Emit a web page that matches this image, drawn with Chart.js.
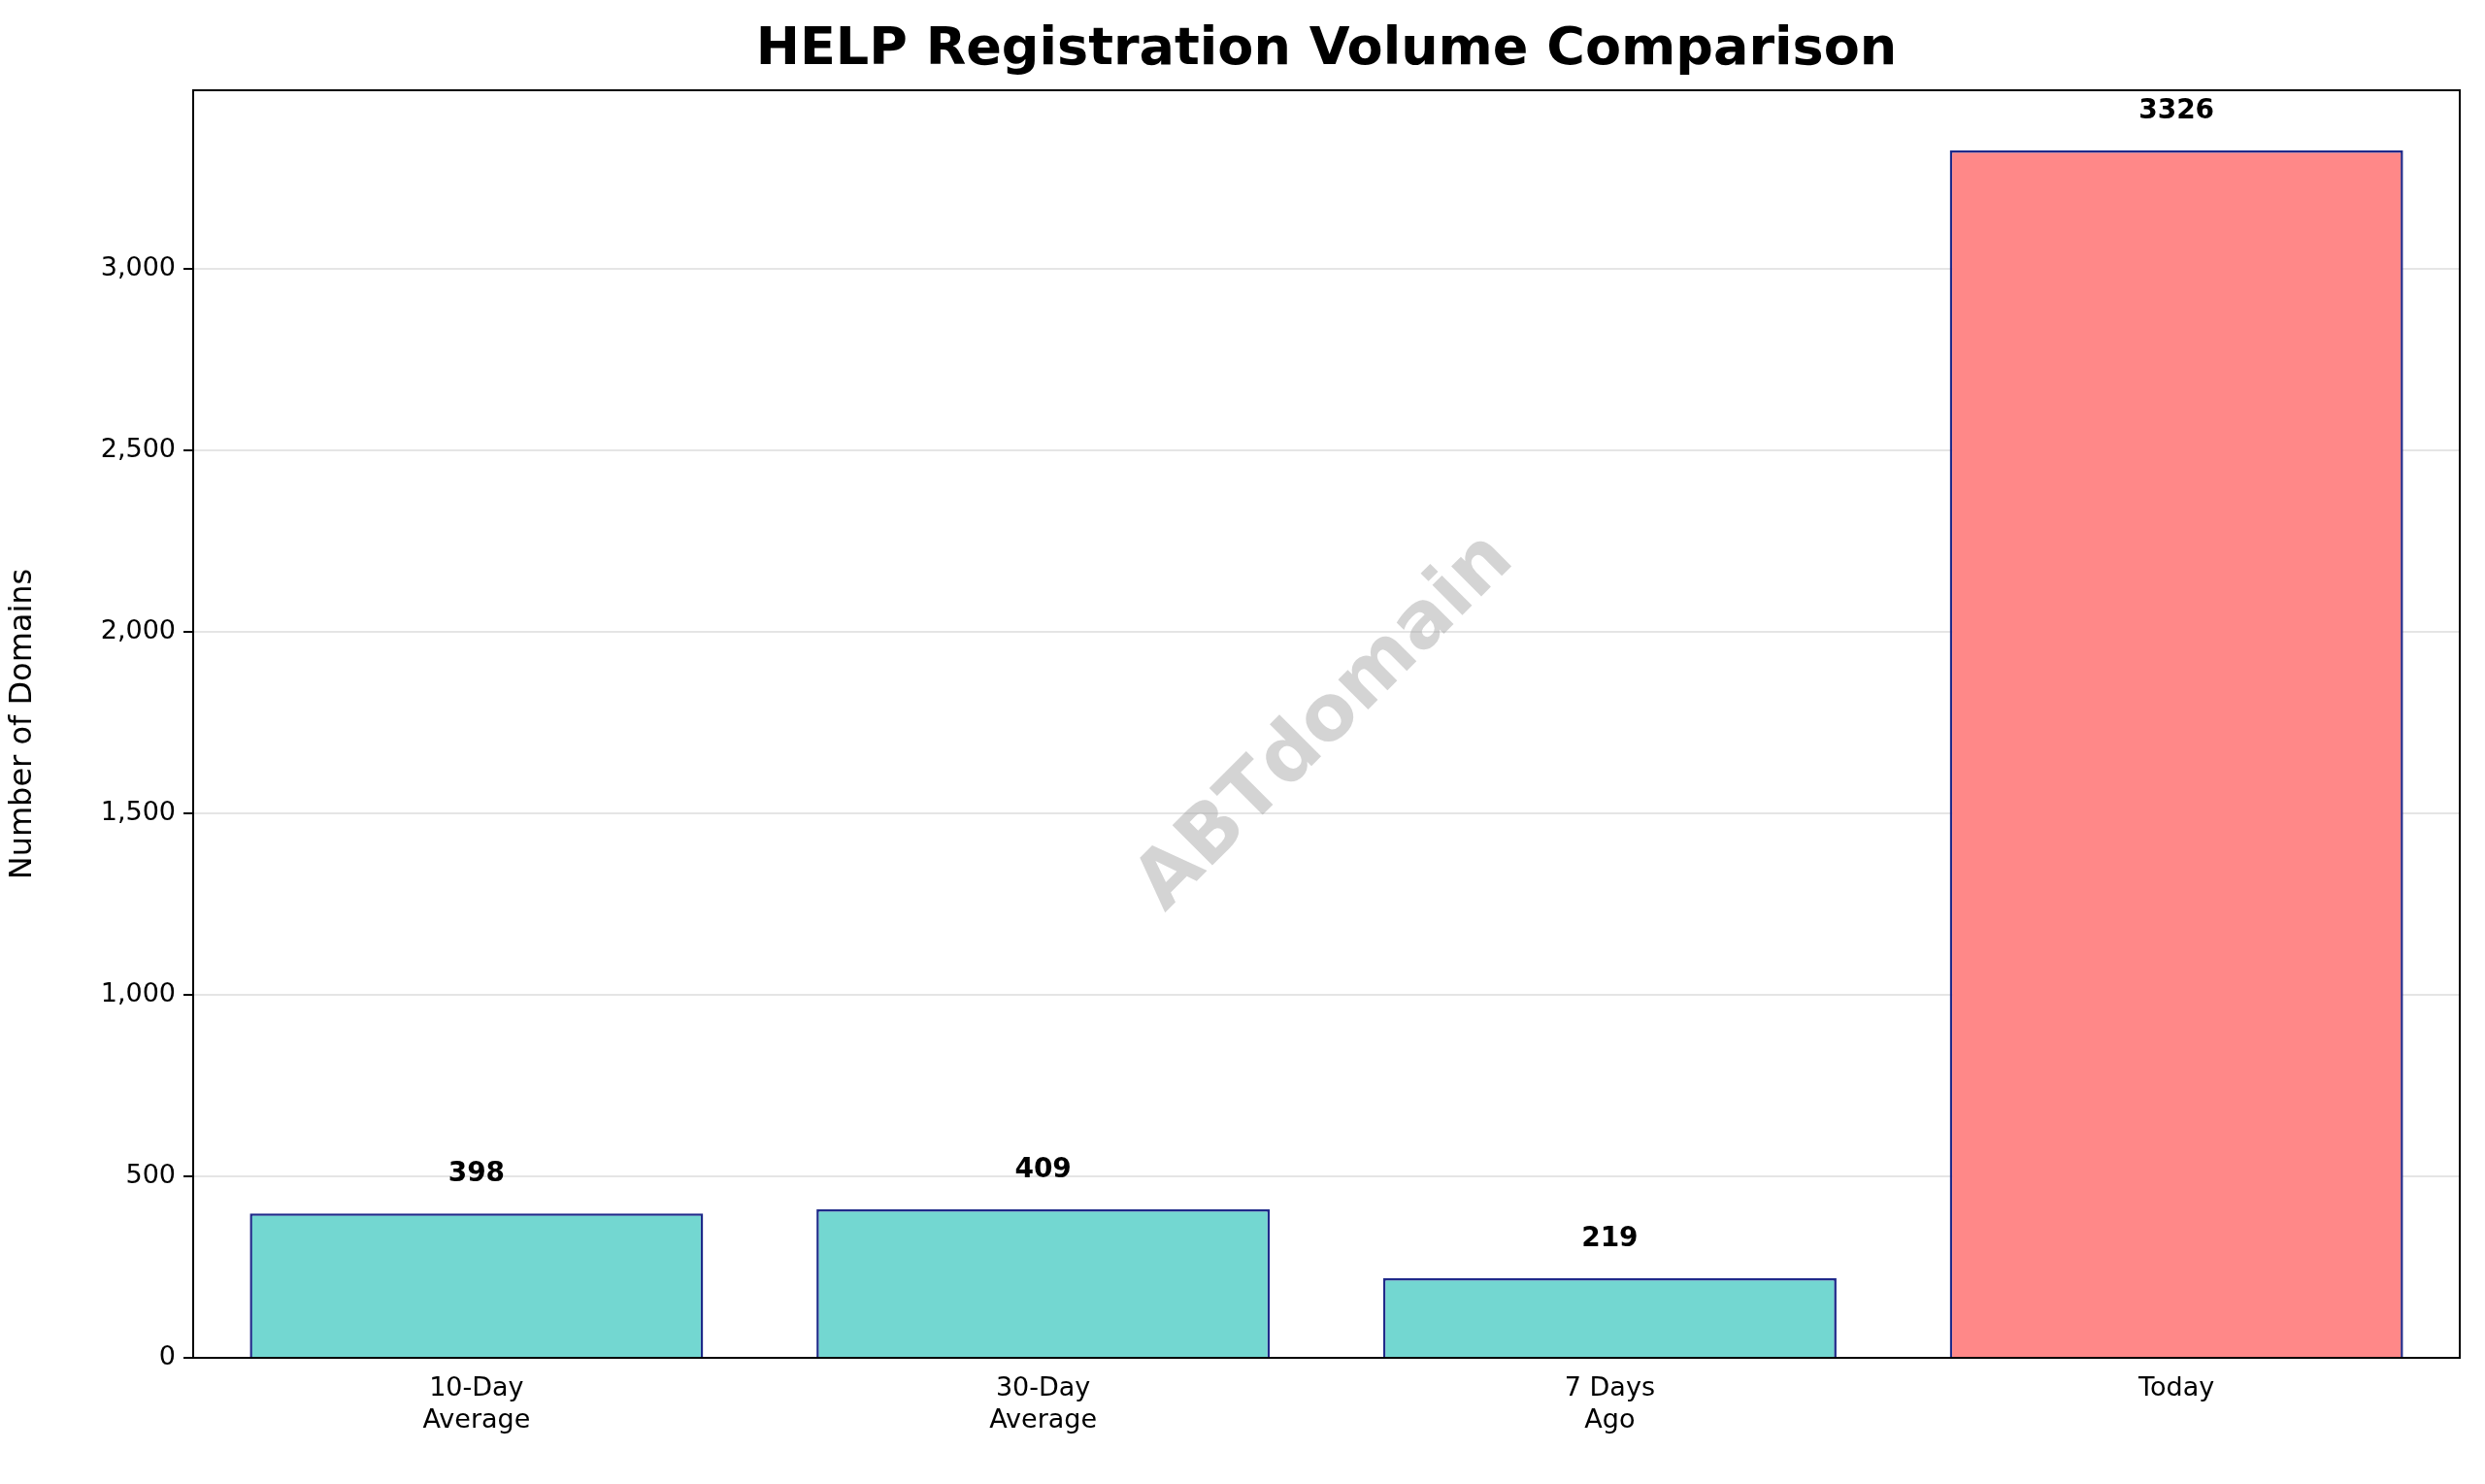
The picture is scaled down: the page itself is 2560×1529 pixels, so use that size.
<!DOCTYPE html>
<html>
<head>
<meta charset="utf-8">
<script src="https://cdn.jsdelivr.net/npm/chart.js@4"></script>
<style>
  body { margin: 0; background: #fff; }
  canvas { display: block; }
</style>
</head>
<body>
<canvas id="myChart" width="2560" height="1529"></canvas>
<script>
const categories = [['10-Day', 'Average'], ['30-Day', 'Average'], ['7 Days', 'Ago'], 'Today'];
const values = [398, 409, 219, 3326];
const barColors = ['#73d7d1', '#73d7d1', '#73d7d1', '#ff8888'];
const yTicks = [0, 500, 1000, 1500, 2000, 2500, 3000];

const FONT = 'DejaVu Sans';

const extras = {
    id: 'extras',
    afterDraw(chart) {
        const ctx = chart.ctx;
        const area = chart.chartArea;
        const y = chart.scales.y;
        const x = chart.scales.x;
        ctx.save();
        // frame
        ctx.strokeStyle = '#000';
        ctx.lineWidth = 2;
        ctx.strokeRect(area.left, area.top, area.right - area.left, area.bottom - area.top);
        // title
        ctx.fillStyle = '#000';
        ctx.font = 'bold 54px ' + FONT;
        ctx.textAlign = 'center';
        ctx.textBaseline = 'middle';
        ctx.fillText('HELP Registration Volume Comparison', (area.left + area.right) / 2, 52);
        // value labels
        ctx.font = 'bold 28px ' + FONT;
        ctx.textBaseline = 'bottom';
        values.forEach((v, i) => {
            ctx.fillText(String(v), x.getPixelForValue(i), y.getPixelForValue(v + 70));
        });
        // watermark
        ctx.translate(1366, 745);
        ctx.rotate(-Math.PI / 4);
        ctx.font = 'bold 80px ' + FONT;
        ctx.fillStyle = 'rgba(160,160,160,0.45)';
        ctx.textBaseline = 'middle';
        ctx.fillText('ABTdomain', 0, 0);
        ctx.restore();
    }
};

new Chart(document.getElementById('myChart').getContext('2d'), {
    type: 'bar',
    data: {
        labels: categories,
        datasets: [{
            data: values,
            backgroundColor: barColors,
            borderColor: '#1f2a8a',
            borderWidth: 2.5,
            categoryPercentage: 1,
            barPercentage: 0.8
        }]
    },
    options: {
        responsive: false,
        devicePixelRatio: 1,
        animation: false,
        layout: { padding: { top: 93, right: 26, left: 0, bottom: 0 } },
        plugins: { legend: { display: false }, tooltip: { enabled: false } },
        scales: {
            x: {
                grid: { display: false },
                border: { display: false },
                ticks: { color: '#000', font: { family: FONT, size: 27 }, padding: 8 },
                afterFit(scale) { scale.height = 130; }
            },
            y: {
                min: 0,
                max: 3492,
                afterBuildTicks(scale) { scale.ticks = yTicks.map(v => ({ value: v })); },
                grid: { color: 'rgba(0,0,0,0.1)', lineWidth: 2, drawTicks: true, tickLength: 10, tickColor: '#000' },
                border: { display: false },
                ticks: { color: '#000', font: { family: FONT, size: 27 }, padding: 8 },
                title: { display: true, text: 'Number of Domains', color: '#000', font: { family: FONT, size: 32 } },
                afterFit(scale) { scale.width = 199; }
            }
        }
    },
    plugins: [extras]
});
</script>
</body>
</html>
